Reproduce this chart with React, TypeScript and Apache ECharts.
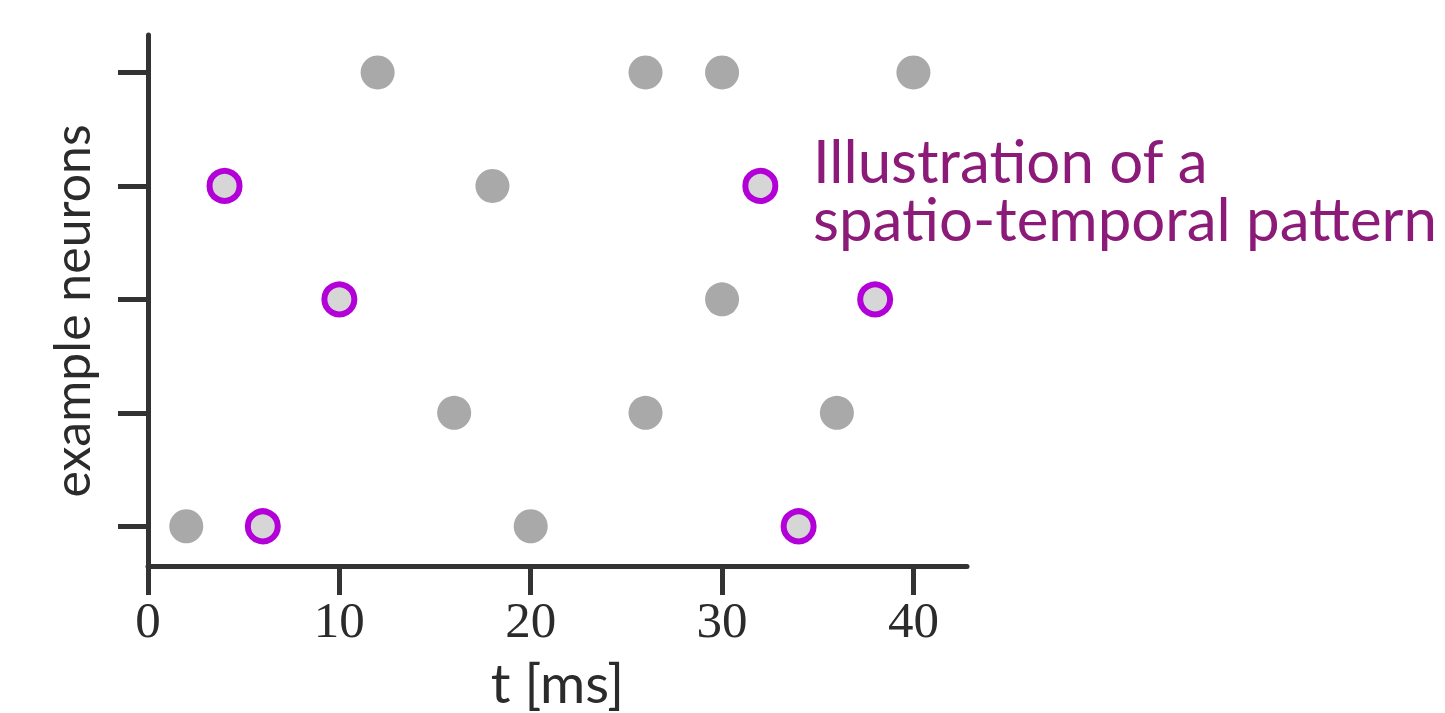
import React, { useEffect, useRef } from "react";
import * as echarts from "echarts";

const neuronRows = [0, 1, 2, 3, 4];
const xTicks = [0, 10, 20, 30, 40];
const backgroundSpikes: [number, number][] = [
  [12, 4], [26, 4], [30, 4], [40, 4],
  [18, 3],
  [30, 2],
  [16, 1], [26, 1], [36, 1],
  [2, 0], [20, 0],
];
const patternSpikes: [number, number][] = [
  [4, 3], [32, 3],
  [10, 2], [38, 2],
  [6, 0], [34, 0],
];
const xLabel = "t [ms]";
const yLabel = "example neurons";
const annotationLines = ["Illustration of a", "spatio-temporal pattern"];

const AXIS = "#333333";
const SANS = "Lato";

export default function App() {
  const ref = useRef<HTMLDivElement>(null);
  useEffect(() => {
    const chart = echarts.init(ref.current!, null, { renderer: "svg" });
    chart.setOption({
      animation: false,
      backgroundColor: "#ffffff",
      grid: { left: 148, right: 1445 - 967, top: 35, bottom: 713 - 566, containLabel: false, outerBoundsMode: "none" },
      xAxis: {
        type: "value",
        min: 0,
        max: 42.8,
        name: xLabel,
        nameLocation: "middle",
        nameGap: 88,
        nameTextStyle: { fontFamily: SANS, fontSize: 55, color: "#2b2b2b" },
        axisLine: { onZero: false, lineStyle: { color: AXIS, width: 5 } },
        axisTick: { show: true, length: 29, customValues: xTicks, lineStyle: { color: AXIS, width: 5 } },
        axisLabel: { customValues: xTicks, fontFamily: "Liberation Serif", fontSize: 51, color: "#2b2b2b", margin: 28 },
        splitLine: { show: false },
      },
      yAxis: {
        type: "value",
        min: -0.35,
        max: 4.33,
        axisLine: { onZero: false, lineStyle: { color: AXIS, width: 5 } },
        axisTick: { show: true, length: 30, customValues: neuronRows, lineStyle: { color: AXIS, width: 5 } },
        axisLabel: { show: false },
        splitLine: { show: false },
      },
      graphic: [
        {
          type: "text",
          x: 96,
          y: 311,
          rotation: Math.PI / 2,
          style: {
            text: yLabel,
            fontFamily: SANS,
            fontSize: 50,
            fill: "#2b2b2b",
            textAlign: "center",
            textVerticalAlign: "bottom",
          },
        },
        {
          type: "text",
          left: 813,
          top: 130,
          style: {
            text: annotationLines[0],
            fontFamily: SANS,
            fontSize: 60,
            lineHeight: 56,
            fill: "#8c1a78",
          },
        },
        {
          type: "text",
          left: 813,
          top: 188,
          style: {
            text: annotationLines[1],
            fontFamily: SANS,
            fontSize: 60,
            lineHeight: 56,
            fill: "#8c1a78",
          },
        },
      ],
      series: [
        {
          type: "scatter",
          data: backgroundSpikes,
          symbolSize: 34,
          itemStyle: { color: "#a9a9a9", opacity: 1 },
          z: 2,
        },
        {
          type: "scatter",
          data: patternSpikes,
          symbolSize: 30,
          itemStyle: { color: "#d6d6d6", borderColor: "#b400d8", borderWidth: 6, opacity: 1 },
          z: 3,
        },
      ],
    });
    return () => chart.dispose();
  }, []);
  return (
    <div
      ref={ref}
      style={{ position: "fixed", left: 0, top: 0, width: 1445, height: 713, background: "#fff" }}
    />
  );
}
